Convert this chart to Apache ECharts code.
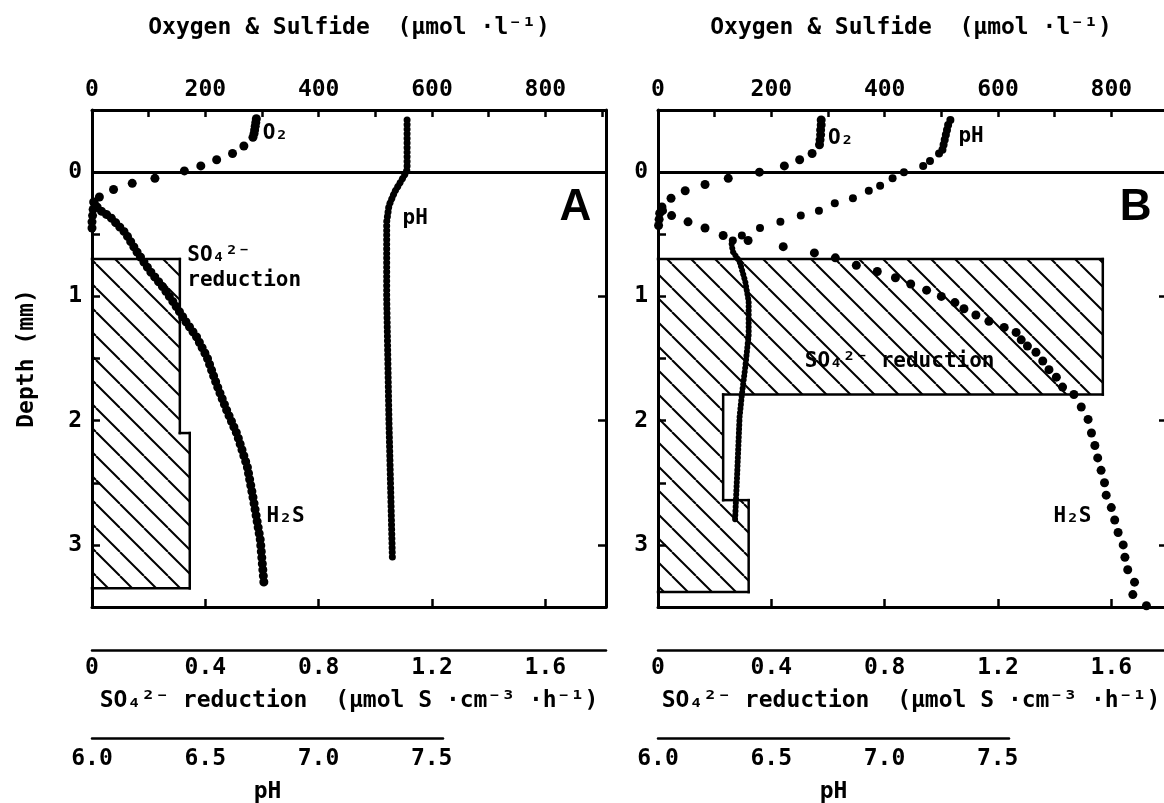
<!DOCTYPE html>
<html>
<head>
<meta charset="utf-8">
<script src="https://cdn.jsdelivr.net/npm/echarts@6.0.0/dist/echarts.min.js"></script>
<style>
  html, body { margin: 0; background: #fff; }
  #chart { width: 1164px; height: 803px; }
</style>
</head>
<body>
<div id="chart"></div>
<script>
// depth in mm, O2/H2S in µmol/l, pH in pH units, SO4 reduction in µmol S/cm3/h
const o2A = [[290,-0.43],[289,-0.40],[288,-0.37],[287,-0.34],[286,-0.31],[284,-0.28],[268,-0.21],[248,-0.15],
  [220,-0.10],[192,-0.05],[163,-0.01],[111,0.05],[71,0.09],[38,0.14],[13,0.20],[4,0.25],[2,0.30],[1,0.35],[0,0.40],[0,0.45]];
const h2sA = [[3,0.24],[12,0.30],[32,0.36],[59,0.49],[79,0.64],[103,0.80],[126,0.93],[147,1.07],[165,1.20],
  [185,1.33],[203,1.49],[220,1.71],[238,1.92],[256,2.11],[274,2.37],[285,2.64],[297,2.96],[304,3.34]];
const phA = [[7.39,-0.42],[7.39,-0.20],[7.39,-0.02],[7.38,0.02],[7.335,0.16],[7.31,0.27],[7.30,0.40],
  [7.30,1.00],[7.31,2.00],[7.325,3.10]];
const so4A = [[0.7,2.1,0.31],[2.1,3.35,0.345]]; // [top, bottom, rate]

const o2B = [[288,-0.42],[288,-0.38],[287,-0.34],[287,-0.30],[286,-0.26],[285,-0.22],[272,-0.15],[250,-0.10],
  [223,-0.05],[179,0.0],[124,0.05],[83,0.10],[48,0.15],[23,0.21],[7,0.28],[3,0.33],[2,0.38],[1,0.43]];
const h2sB = [[8,0.31],[24,0.35],[53,0.40],[83,0.45],[115,0.51],[159,0.55],[221,0.60],[276,0.65],[313,0.69],
  [350,0.75],[387,0.80],[419,0.85],[446,0.90],[474,0.95],[500,1.00],[524,1.05],[540,1.10],[561,1.15],[584,1.20],
  [611,1.25],[632,1.29],[641,1.35],[652,1.40],[667,1.45],[679,1.52],[690,1.59],[703,1.65],[714,1.73],[734,1.79],
  [747,1.89],[759,1.99],[765,2.10],[771,2.20],[776,2.30],[782,2.40],[788,2.50],[791,2.60],[800,2.70],[806,2.80],
  [812,2.90],[821,3.00],[824,3.10],[829,3.20],[841,3.30],[838,3.40],[862,3.49]];
const phBDots = [[7.29,-0.42],[7.28,-0.38],[7.275,-0.34],[7.27,-0.30],[7.265,-0.26],[7.26,-0.22],[7.255,-0.18],
  [7.24,-0.15],[7.20,-0.09],[7.17,-0.05],[7.085,0.0],[7.035,0.05],[6.98,0.11],[6.93,0.15],[6.86,0.21],[6.78,0.25],
  [6.71,0.31],[6.63,0.35],[6.54,0.40],[6.45,0.45],[6.37,0.51],[6.33,0.55]];
const phBChain = [[6.325,0.58],[6.33,0.64],[6.36,0.72],[6.385,0.88],[6.40,1.04],[6.40,1.31],[6.385,1.57],
  [6.37,1.79],[6.36,1.97],[6.35,2.40],[6.34,2.80]];
const so4B = [[0.7,1.79,1.57],[1.79,2.64,0.23],[2.64,3.38,0.32]];

// ticks and labels
const concTicks = [0,100,200,300,400,500,600,700,800,900];
const concLabels = [0,200,400,600,800];
const concBottomTicks = [200,400,600,800];
const depthTicks = [-0.5,0,0.5,1,1.5,2,2.5,3,3.5];
const depthLabels = [0,1,2,3];
const depthRightTicks = [1,2,3];
const so4Labels = [0,0.4,0.8,1.2,1.6];
const phLabels = [6.0,6.5,7.0,7.5];

// text annotations [conc, depth, text]
const notesA = [[302,-0.31,'O₂'],[549,0.38,'pH'],[169,0.78,'SO₄²⁻\nreduction'],[309,2.78,'H₂S']];
const notesB = [[301,-0.27,'O₂'],[531,-0.28,'pH'],[260,1.53,'SO₄²⁻ reduction'],[699,2.78,'H₂S']];

const FONT = "'DejaVu Sans Mono', monospace";
const txt = { color: '#000', fontFamily: FONT, fontWeight: 'bold', fontSize: 23 };
const noteTxt = Object.assign({}, txt, { fontSize: 21 });
const axisLine = { show: true, onZero: false, lineStyle: { color: '#000', width: 3 } };

const hatch = (() => {
  const s = 24, c = document.createElement('canvas');
  c.width = c.height = s;
  const g = c.getContext('2d');
  g.strokeStyle = '#000';
  g.lineWidth = 2;
  for (const o of [-s, 0, s]) { g.beginPath(); g.moveTo(o, 0); g.lineTo(o + s, s); g.stroke(); }
  return { image: c, repeat: 'repeat' };
})();

function so4Item(params, api) {
  const rate = api.value(0), top = api.value(1), bottom = api.value(2), prev = api.value(3), last = api.value(4);
  const tl = api.coord([0, top]);
  const br = api.coord([rate, bottom]);
  const pp = api.coord([prev, top]);
  const ln = { stroke: '#000', lineWidth: 2.5, lineCap: 'square' };
  const children = [
    { type: 'rect', shape: { x: tl[0], y: tl[1], width: br[0] - tl[0], height: br[1] - tl[1] }, style: { fill: hatch } },
    { type: 'line', shape: { x1: pp[0], y1: tl[1], x2: br[0], y2: tl[1] }, style: ln },
    { type: 'line', shape: { x1: br[0], y1: tl[1], x2: br[0], y2: br[1] }, style: ln }
  ];
  if (last) children.push({ type: 'line', shape: { x1: tl[0], y1: br[1], x2: br[0], y2: br[1] }, style: ln });
  return { type: 'group', children };
}

// panel B runs off the right edge of the page, so its right frame line is not drawn
const grid = [
  { left: 92, top: 110, width: 514, height: 497 },
  { left: 658, top: 110, width: 506, height: 497 },
  { left: 92, top: 738, width: 351, height: 1 },
  { left: 658, top: 738, width: 351, height: 1 }
];
const concMax = [907, 893];
const rightLine = [true, false];
const rightTickLen = [8, 5];
const title = 'Oxygen & Sulfide  (µmol ·l⁻¹)';
const so4Name = 'SO₄²⁻ reduction  (µmol S ·cm⁻³ ·h⁻¹)';

const xAxis = [], yAxis = [], series = [];

[0, 1].forEach(i => {
  const max = concMax[i];
  xAxis.push(
    { gridIndex: i, type: 'value', position: 'top', min: 0, max,
      axisLine, splitLine: { show: false },
      axisTick: { inside: true, length: 7, customValues: concTicks, lineStyle: { color: '#000', width: 2.5 } },
      axisLabel: Object.assign({ customValues: concLabels, margin: 8 }, txt),
      name: title, nameLocation: 'middle', nameGap: 70, nameTextStyle: txt },
    { gridIndex: i, type: 'value', position: 'bottom', min: 0, max,
      axisLine, splitLine: { show: false }, axisLabel: { show: false },
      axisTick: { inside: true, length: 8, customValues: concBottomTicks, lineStyle: { color: '#000', width: 2.5 } } },
    { gridIndex: i, type: 'value', position: 'bottom', offset: 43, min: 0, max: max / 500,
      axisLine: { show: true, onZero: false, lineStyle: { color: '#000', width: 2.5 } },
      splitLine: { show: false }, axisTick: { show: false },
      axisLabel: Object.assign({ customValues: so4Labels, margin: 7,
        formatter: v => v === 0 ? '0' : v.toFixed(1) }, txt),
      name: so4Name, nameLocation: 'middle', nameGap: 40, nameTextStyle: txt },
    { gridIndex: i, type: 'value', show: false, min: 6, max: 6 + max / 400 }
  );
  yAxis.push(
    { gridIndex: i, type: 'value', position: 'left', inverse: true, min: -0.5, max: 3.5,
      axisLine, splitLine: { show: false },
      axisTick: { inside: true, length: 8, customValues: depthTicks, lineStyle: { color: '#000', width: 2.5 } },
      axisLabel: Object.assign({ customValues: depthLabels, margin: 10 }, txt),
      name: i === 0 ? 'Depth (mm)' : '', nameLocation: 'middle', nameGap: 53, nameTextStyle: txt },
    { gridIndex: i, type: 'value', position: 'right', inverse: true, min: -0.5, max: 3.5,
      axisLine: Object.assign({}, axisLine, { show: rightLine[i] }), splitLine: { show: false },
      axisLabel: { show: false },
      axisTick: { inside: true, length: rightTickLen[i], customValues: depthRightTicks,
        lineStyle: { color: '#000', width: 2.5 } } }
  );
});

// pH scale axes below the panels
[2, 3].forEach(g => {
  xAxis.push({ gridIndex: g, type: 'value', position: 'bottom', min: 6, max: 7.55,
    axisLine: { show: true, onZero: false, lineStyle: { color: '#000', width: 2.5 } },
    splitLine: { show: false }, axisTick: { show: false },
    axisLabel: Object.assign({ customValues: phLabels, margin: 9, formatter: v => v.toFixed(1) }, txt),
    name: 'pH', nameLocation: 'middle', nameGap: 42, nameTextStyle: txt });
  yAxis.push({ gridIndex: g, type: 'value', show: false });
});

function withPrev(rows) {
  return rows.map((r, k) => [r[2], r[0], r[1], k ? rows[k - 1][2] : 0, k === rows.length - 1 ? 1 : 0]);
}
function dots(data, xi, yi, size, extra) {
  return Object.assign({ type: 'scatter', xAxisIndex: xi, yAxisIndex: yi, data, symbolSize: size,
    itemStyle: { color: '#000', opacity: 1 }, clip: false, z: 5, silent: true }, extra || {});
}
function chain(data, xi, yi, width, gap) {
  return { type: 'line', xAxisIndex: xi, yAxisIndex: yi, data, showSymbol: false, clip: false, z: 5, silent: true,
    lineStyle: { color: '#000', width, type: [0.1, gap], cap: 'round', opacity: 1 } };
}
function notes(list, xi, yi, letter) {
  const data = list.map(n => ({ value: [n[0], n[1]], name: n[2] }));
  data.push({ value: letter[0], name: letter[1],
    label: { align: 'center', fontSize: 44, fontFamily: "'Liberation Sans', Arial, sans-serif" } });
  return { type: 'scatter', xAxisIndex: xi, yAxisIndex: yi, data, symbolSize: 1, silent: true, z: 6,
    itemStyle: { color: '#fff', opacity: 1 },
    label: Object.assign({ show: true, position: [0, 0], align: 'left', verticalAlign: 'middle',
      lineHeight: 25, formatter: '{b}' }, noteTxt) };
}
const zeroLine = { silent: true, symbol: 'none', label: { show: false },
  lineStyle: { color: '#000', width: 3, type: 'solid' }, data: [{ yAxis: 0 }] };

// panel A
series.push(
  { type: 'custom', xAxisIndex: 2, yAxisIndex: 0, renderItem: so4Item, data: withPrev(so4A), z: 2, silent: true },
  dots(o2A, 0, 0, 9, { markLine: zeroLine }),
  chain(h2sA, 0, 0, 9, 6),
  chain(phA, 3, 0, 7, 4.5),
  notes(notesA, 0, 0, [[854, 0.29], 'A'])
);
// panel B
series.push(
  { type: 'custom', xAxisIndex: 6, yAxisIndex: 2, renderItem: so4Item, data: withPrev(so4B), z: 2, silent: true },
  dots(o2B, 4, 2, 9, { markLine: zeroLine }),
  dots(h2sB, 4, 2, 9),
  dots(phBDots, 7, 2, 8),
  chain(phBChain, 7, 2, 6, 4),
  notes(notesB, 4, 2, [[844, 0.29], 'B'])
);

const chart = echarts.init(document.getElementById('chart'));
chart.setOption({ animation: false, backgroundColor: '#fff', grid, xAxis, yAxis, series });
</script>
</body>
</html>
